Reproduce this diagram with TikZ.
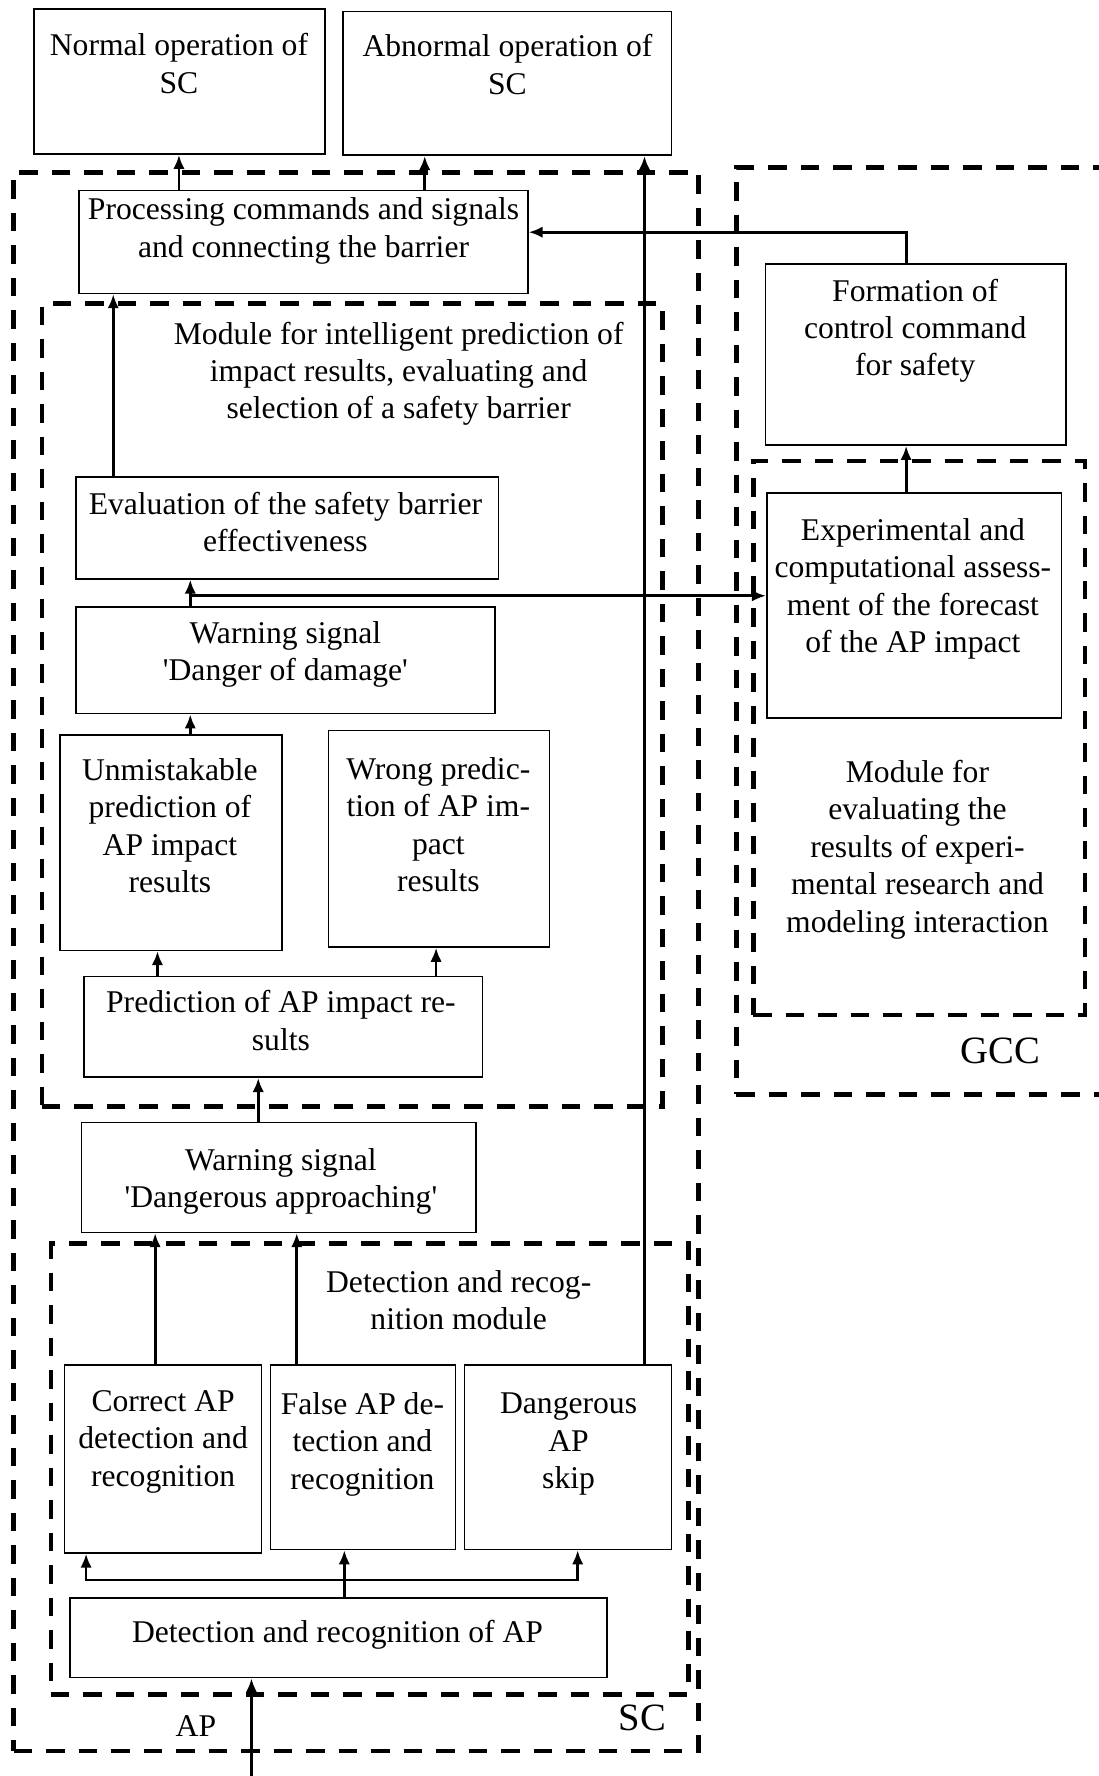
\documentclass[tikz,border=0pt]{standalone}
\usepackage{fontspec}
\setmainfont{Liberation Serif}
\usetikzlibrary{arrows.meta,fit}

\begin{document}
\begin{tikzpicture}[x=0.02266cm,y=-0.02266cm,
    box/.style={draw,line width=0.9pt,inner sep=0pt},
    zone/.style={draw,line width=2.7pt,dash pattern=on 10.5pt off 8pt,inner sep=0pt},
    txt/.style={align=center,font=\fontsize{18}{21.3}\selectfont},
    >={Latex[length=8pt,width=6.5pt]},
    arr/.style={->,line width=1.6pt}]
\useasboundingbox (0,0) rectangle (970,1568);

% dashed areas
\node[zone,fit={(12,152) (617,1546)}] (sc) {};
\node[zone,fit={(650,148) (995,966)}] (gcc) {};
\node[zone,fit={(37,268) (585,977)}] (predmod) {};
\node[zone,fit={(45,1098) (608,1496)}] (detmod) {};
\node[zone,fit={(665,407) (958,896)}] (evalmod) {};

% boxes
\node[box,fit={(30,8) (287,136)}] (normal) {};
\node[box,fit={(303,10) (593,137)}] (abn) {};
\node[box,fit={(70,168) (466,259)}] (proc) {};
\node[box,fit={(67,421) (440,511)}] (eval) {};
\node[box,fit={(67,536) (437,630)}] (warn2) {};
\node[box,fit={(53,649) (249,839)}] (unm) {};
\node[box,fit={(290,645) (485,836)}] (wrong) {};
\node[box,fit={(74,862) (426,951)}] (pred) {};
\node[box,fit={(72,991) (420,1088)}] (warn1) {};
\node[box,fit={(57,1205) (231,1371)}] (correct) {};
\node[box,fit={(239,1205) (402,1368)}] (false) {};
\node[box,fit={(410,1205) (593,1368)}] (skip) {};
\node[box,fit={(62,1411) (536,1481)}] (det) {};
\node[box,fit={(676,233) (941,393)}] (form) {};
\node[box,fit={(677,435) (937,634)}] (exp) {};

% texts
\node[txt] (normal-t) at (158,56) {Normal operation of\\SC};
\node[txt] (abn-t) at (448,57) {Abnormal operation of\\SC};
\node[txt] (proc-t) at (268,204) {Processing commands and signals\\and connecting the barrier};
\node[txt] (predmod-t) at (352,330) {Module for intelligent prediction of\\impact results, evaluating and\\selection of a safety barrier};
\node[txt] (eval-t) at (252,461) {Evaluation of the safety barrier\\effectiveness};
\node[txt] (warn2-t) at (252,578) {Warning signal\\\textquotesingle Danger of damage\textquotesingle};
\node[txt] (unm-t) at (150,729) {Unmistakable\\prediction of\\AP impact\\results};
\node[txt] (wrong-t) at (387,728) {Wrong predic-\\tion of AP im-\\pact\\results};
\node[txt] (pred-t) at (248,901) {Prediction of AP impact re-\\sults};
\node[txt] (warn1-t) at (248,1043) {Warning signal\\\textquotesingle Dangerous approaching\textquotesingle};
\node[txt] (detmod-t) at (405,1148) {Detection and recog-\\nition module};
\node[txt] (correct-t) at (144,1273) {Correct AP\\detection and\\recognition};
\node[txt] (false-t) at (320,1275) {False AP de-\\tection and\\recognition};
\node[txt] (skip-t) at (502,1275) {Dangerous\\AP\\skip};
\node[txt] (det-t) at (298,1443) {Detection and recognition of AP};
\node[txt] (form-t) at (808,292) {Formation of\\control command\\for safety};
\node[txt] (exp-t) at (806,520) {Experimental and\\computational assess-\\ment of the forecast\\of the AP impact};
\node[txt] (evalmod-t) at (810,750) {Module for\\evaluating the\\results of experi-\\mental research and\\modeling interaction};
\node[txt,font=\fontsize{22}{24}\selectfont] (sc-t) at (567,1517) {SC};
\node[txt,font=\fontsize{22}{24}\selectfont] (gcc-t) at (883,928) {GCC};
\node[txt] (ap-t) at (173,1524) {AP};

% connectors
\coordinate (fork) at (168,526);
\coordinate (bus) at (304,1395);
\coordinate (in) at (222,1568);
\draw[arr] (proc.north -| 158,0) -- (normal.south -| 158,0);
\draw[arr] (proc.north -| 375,0) -- (abn.south -| 375,0);
\draw[arr] (skip.north -| 569,0) -- (abn.south -| 569,0);
\draw[arr] (form.north -| 800,0) |- (proc.east |- 0,205);
\draw[arr] (eval.north -| 100,0) -- (proc.south -| 100,0);
\draw[arr] (warn2.north -| 168,0) -- (eval.south -| 168,0);
\draw[arr] (fork) -- (exp.west |- fork);
\draw[arr] (unm.north -| 168,0) -- (warn2.south -| 168,0);
\draw[arr] (pred.north -| 139,0) -- (unm.south -| 139,0);
\draw[arr] (pred.north -| 385,0) -- (wrong.south -| 385,0);
\draw[arr] (warn1.north -| 228,0) -- (pred.south -| 228,0);
\draw[arr] (correct.north -| 137,0) -- (warn1.south -| 137,0);
\draw[arr] (false.north -| 262,0) -- (warn1.south -| 262,0);
\draw[arr] (det.north -| bus) -- (false.south -| bus);
\draw[arr] (bus) -| (correct.south -| 76,0);
\draw[arr] (bus) -| (skip.south -| 510,0);
\draw[arr] (in) -- (det.south -| in);
\draw[arr] (exp.north -| 800,0) -- (form.south -| 800,0);
\end{tikzpicture}
\end{document}
